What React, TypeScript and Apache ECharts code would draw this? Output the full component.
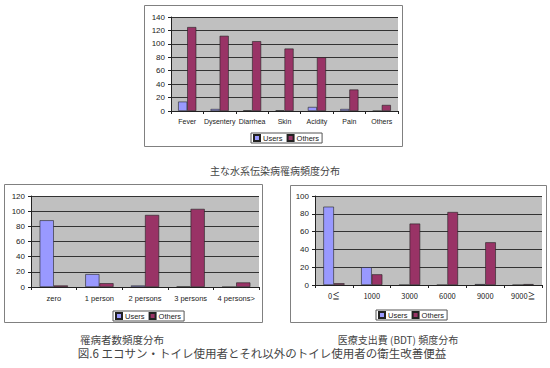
import React, { useEffect, useRef } from "react";
import * as echarts from "echarts";

const diseaseCats = ["Fever", "Dysentery", "Diarrhea", "Skin", "Acidity", "Pain", "Others"];
const diseaseUsers = [14, 3, 1, 1, 6, 3, 0];
const diseaseOthers = [125, 112, 104, 93, 80, 32, 9];

const personCats = ["zero", "1 person", "2 persons", "3 persons", "4 persons>"];
const personUsers = [88, 17, 2, 0.5, 0];
const personOthers = [2, 5, 95, 103, 6];

const costCats = ["0≦", "1000", "3000", "6000", "9000", "9000≧"];
const costUsers = [88, 20, 0, 0, 1, 0];
const costOthers = [2, 12, 69, 82, 48, 1];

const captionTop = "主な水系伝染病罹病頻度分布";
const captionLeft = "罹病者数頻度分布";
const captionRight = "医療支出費 (BDT) 頻度分布";
const figTitle = "図.6 エコサン・トイレ使用者とそれ以外のトイレ使用者の衛生改善便益";

const USERS_COLOR = "#9999ff";
const OTHERS_COLOR = "#993366";
const FONT = "'Liberation Sans', Arial, sans-serif";
const CJK = "'Noto Sans CJK JP', sans-serif";

export default function App() {
  const ref = useRef<HTMLDivElement>(null);
  useEffect(() => {
    if (!ref.current) return;
    const chart = echarts.init(ref.current, undefined, { renderer: "svg" });
    const grids = [
      { left: 171, top: 17, width: 227, height: 94 },
      { left: 31, top: 196, width: 228, height: 91 },
      { left: 315, top: 196, width: 227, height: 89 },
    ];
    const cats = [diseaseCats, personCats, costCats];
    const maxes = [140, 120, 100];
    const catGaps = ["44%", "38%", "44%"];
    const usersData = [diseaseUsers, personUsers, costUsers];
    const othersData = [diseaseOthers, personOthers, costOthers];
    const xFont = [7, 7.5, 7.5];
    const xFamily = [FONT, FONT, CJK];

    const series: any[] = [];
    for (let i = 0; i < 3; i++) {
      series.push({
        type: "bar",
        name: "Users",
        xAxisIndex: i,
        yAxisIndex: i,
        data: usersData[i],
        barGap: "0%",
        barCategoryGap: catGaps[i],
        itemStyle: { color: USERS_COLOR, borderColor: "#222", borderWidth: 0.6 },
      });
      series.push({
        type: "bar",
        name: "Others",
        xAxisIndex: i,
        yAxisIndex: i,
        data: othersData[i],
        barGap: "0%",
        barCategoryGap: catGaps[i],
        itemStyle: { color: OTHERS_COLOR, borderColor: "#222", borderWidth: 0.6 },
      });
    }

    const legendBase = {
      data: ["Users", "Others"],
      orient: "horizontal",
      itemWidth: 6,
      itemHeight: 6,
      itemGap: 4,
      padding: [1, 3, 1, 2],
      borderColor: "#555",
      borderWidth: 1,
      backgroundColor: "#fff",
      icon: "rect",
      selectedMode: false,
      textStyle: { fontSize: 7.5, fontFamily: FONT, color: "#222", padding: [0, 0, 0, -2] },
    };

    chart.setOption({
      animation: false,
      backgroundColor: "#fff",
      grid: grids.map((g) => ({
        ...g,
        show: true,
        backgroundColor: "#c0c0c0",
        borderWidth: 0,
      })),
      xAxis: cats.map((c, i) => ({
        type: "category",
        gridIndex: i,
        data: c,
        axisLine: { lineStyle: { color: "#222", width: 1 } },
        axisTick: { show: true, length: 3, lineStyle: { color: "#222" } },
        axisLabel: { interval: 0, fontSize: xFont[i], color: "#222", fontFamily: xFamily[i], margin: 7 },
        splitLine: { show: false },
      })),
      yAxis: maxes.map((m, i) => ({
        type: "value",
        gridIndex: i,
        min: 0,
        max: m,
        interval: 20,
        axisLine: { show: true, lineStyle: { color: "#222", width: 1 } },
        axisTick: { show: true, length: 3, lineStyle: { color: "#222" } },
        axisLabel: { fontSize: 8, color: "#222", fontFamily: FONT, margin: 6 },
        splitLine: { show: true, lineStyle: { color: "#333", width: 1 } },
      })),
      legend: [
        { ...legendBase, left: 251, top: 133 },
        { ...legendBase, left: 113, top: 311 },
        { ...legendBase, left: 376, top: 310 },
      ],
      series,
      graphic: [
        { type: "rect", shape: { x: 144.5, y: 5.5, width: 258, height: 141 }, style: { fill: "none", stroke: "#808080", lineWidth: 1 }, z: -1 },
        { type: "rect", shape: { x: 4.5, y: 184.5, width: 258, height: 138 }, style: { fill: "none", stroke: "#808080", lineWidth: 1 }, z: -1 },
        { type: "rect", shape: { x: 290.5, y: 185.5, width: 256, height: 137 }, style: { fill: "none", stroke: "#808080", lineWidth: 1 }, z: -1 },
        { type: "text", x: 275, y: 170, style: { text: captionTop, fontSize: 10, fontFamily: CJK, fill: "#444", align: "center", verticalAlign: "middle" } },
        { type: "text", x: 122, y: 339, style: { text: captionLeft, fontSize: 10.5, fontFamily: CJK, fill: "#444", align: "center", verticalAlign: "middle" } },
        { type: "text", x: 398, y: 339, style: { text: captionRight, fontSize: 10, fontFamily: CJK, fill: "#444", align: "center", verticalAlign: "middle" } },
        { type: "text", x: 262, y: 353, style: { text: figTitle, fontSize: 11.5, fontFamily: CJK, fill: "#444", align: "center", verticalAlign: "middle" } },
      ],
    });
    return () => chart.dispose();
  }, []);
  return (
    <div
      ref={ref}
      style={{ position: "absolute", left: 0, top: 0, width: 550, height: 368, background: "#fff" }}
    />
  );
}
